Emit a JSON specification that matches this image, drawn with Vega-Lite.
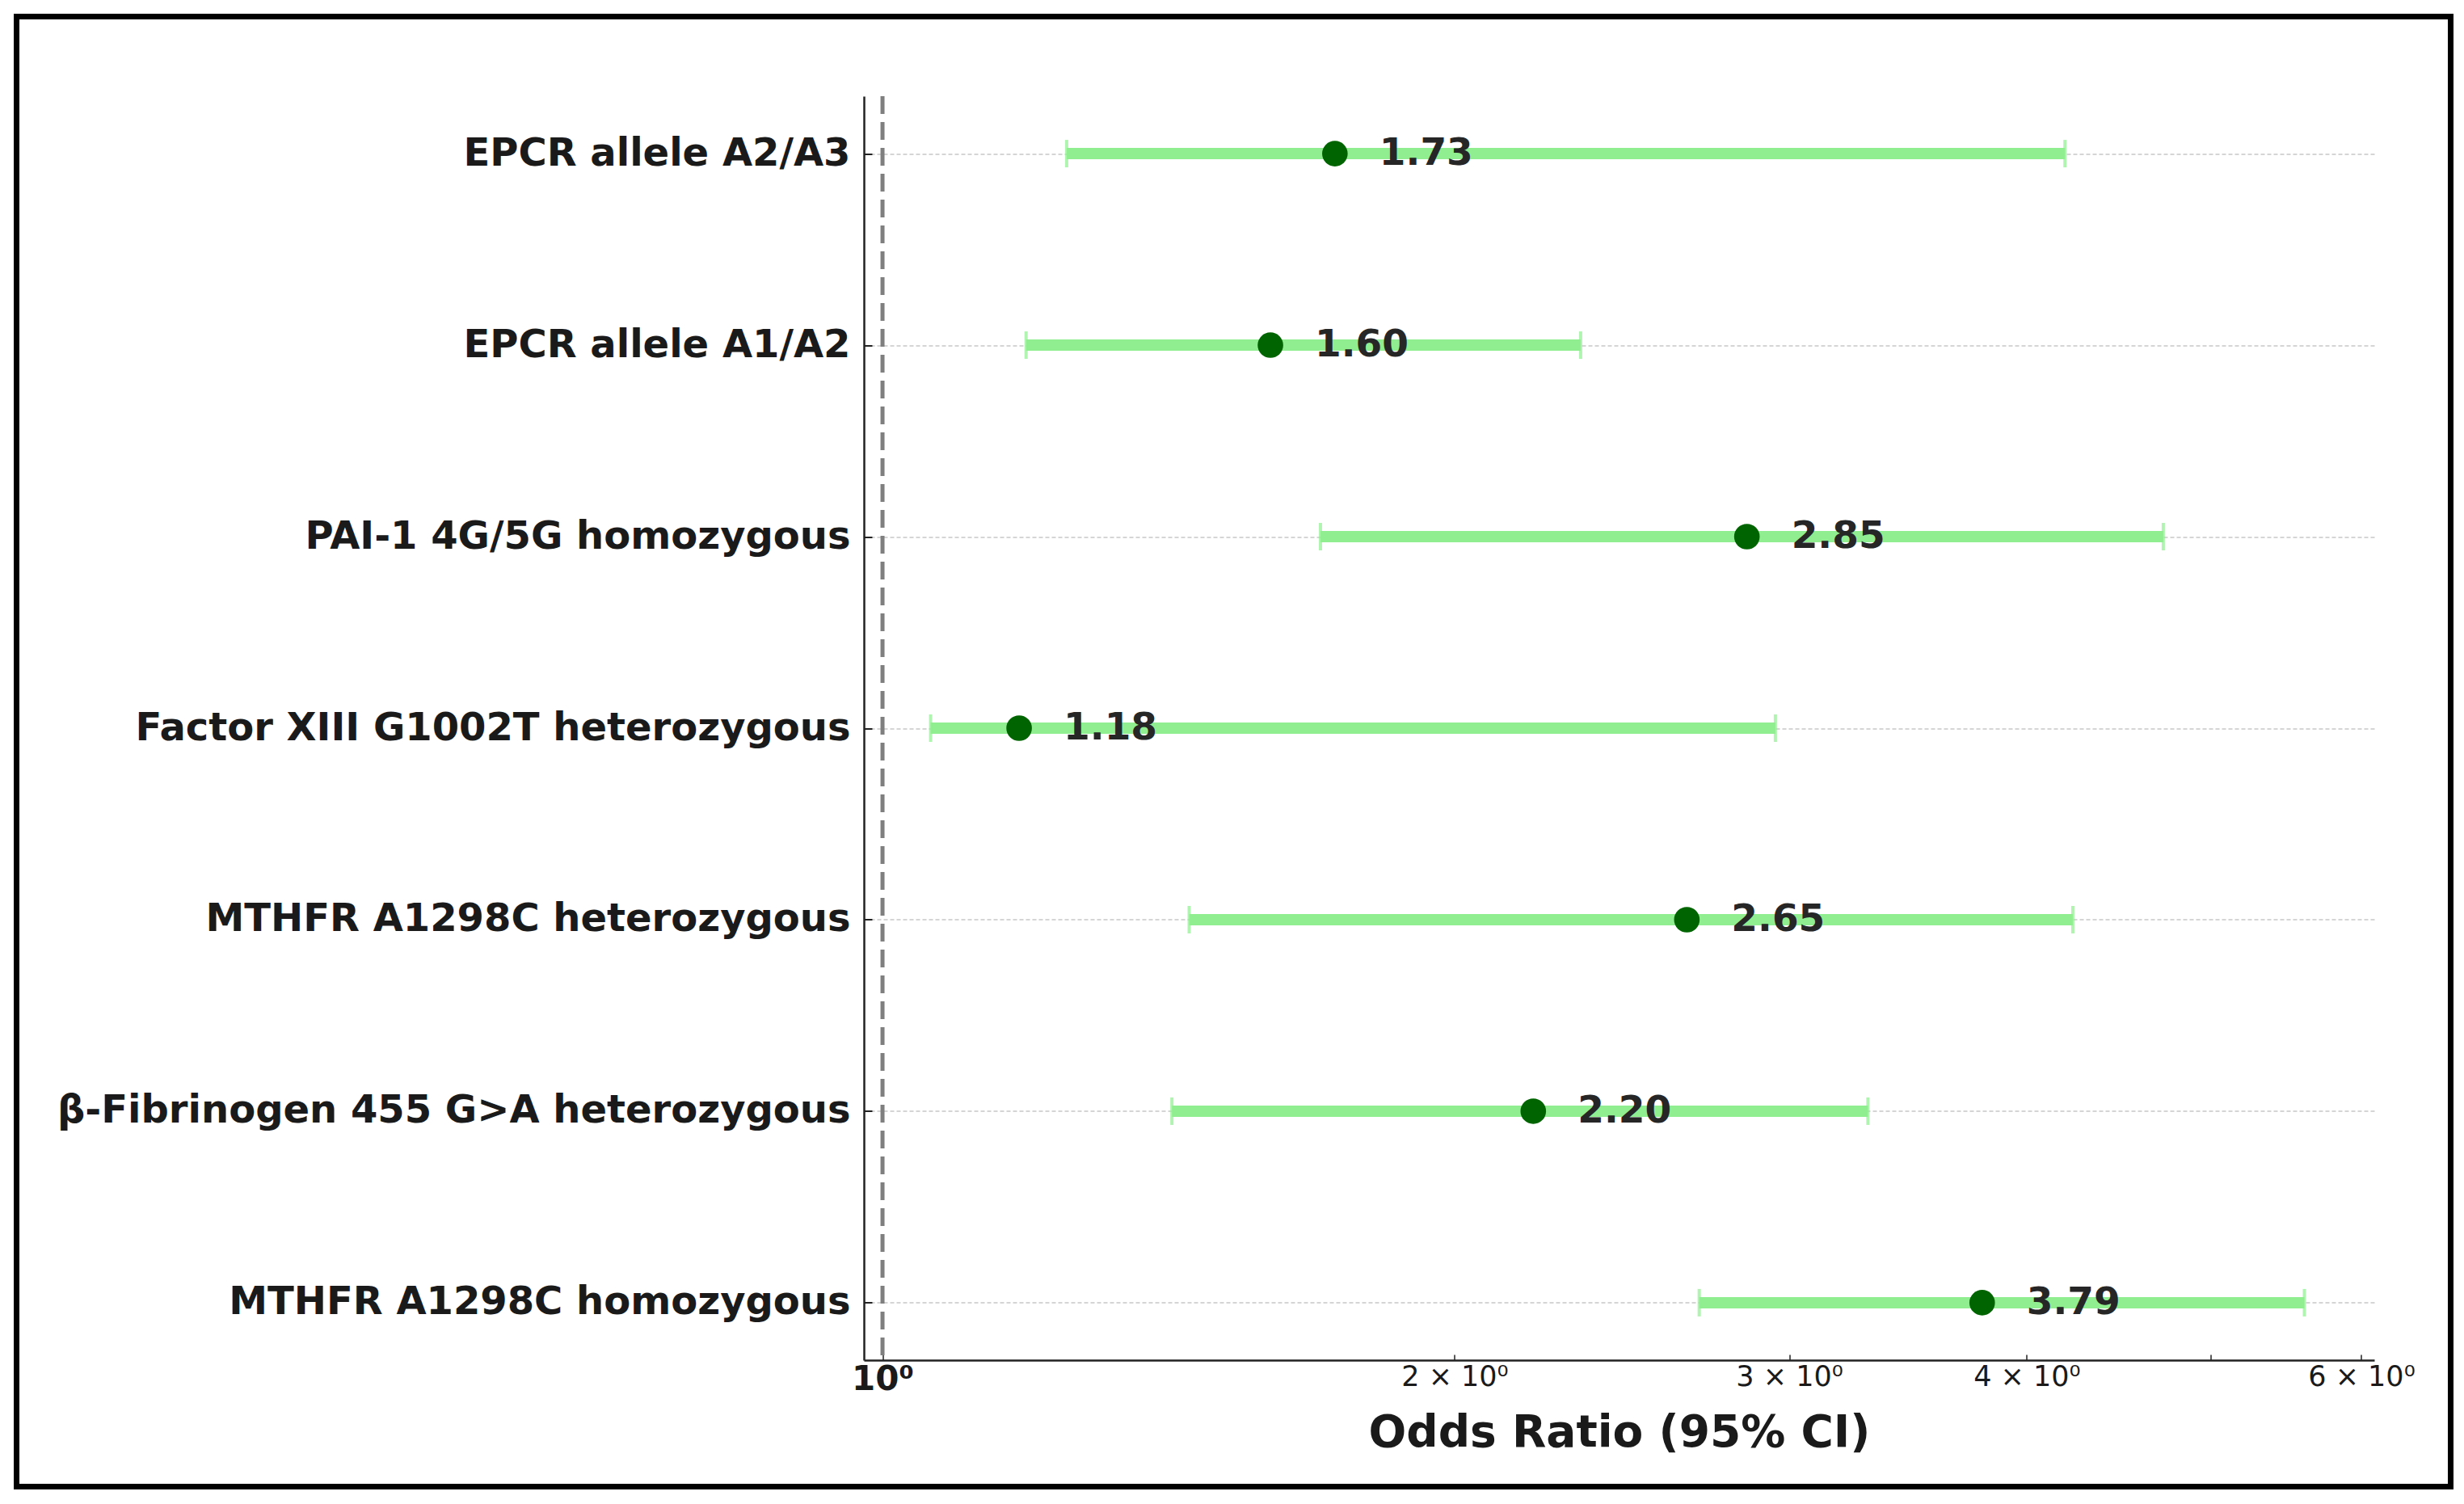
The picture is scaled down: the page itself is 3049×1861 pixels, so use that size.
{
  "$schema": "https://vega.github.io/schema/vega-lite/v6.json",
  "width": 3012,
  "height": 1819,
  "autosize": {"type": "none"},
  "padding": {"left": 20.5, "top": 20.5, "right": 16.5, "bottom": 21.5},
  "background": "white",
  "config": {
    "font": "DejaVu Sans",
    "view": {"stroke": "black", "strokeWidth": 7}
  },
  "data": {
    "values": [
      {"factor": "EPCR allele A2/A3", "or": 1.73, "lo": 1.25, "hi": 4.19},
      {"factor": "EPCR allele A1/A2", "or": 1.60, "lo": 1.19, "hi": 2.33},
      {"factor": "PAI-1 4G/5G homozygous", "or": 2.85, "lo": 1.70, "hi": 4.72},
      {"factor": "Factor XIII G1002T heterozygous", "or": 1.18, "lo": 1.06, "hi": 2.95},
      {"factor": "MTHFR A1298C heterozygous", "or": 2.65, "lo": 1.45, "hi": 4.23},
      {"factor": "β-Fibrinogen 455 G>A heterozygous", "or": 2.20, "lo": 1.42, "hi": 3.30},
      {"factor": "MTHFR A1298C homozygous", "or": 3.79, "lo": 2.69, "hi": 5.60}
    ]
  },
  "layer": [
    {
      "encoding": {
        "y": {
          "field": "factor",
          "type": "nominal",
          "sort": null,
          "scale": {"type": "point", "padding": 0.3, "range": [98.5, 1662.5]},
          "axis": {
            "title": null,
            "offset": -1048.5,
            "labelFont": "DejaVu Sans",
            "labelFontSize": 48,
            "labelFontWeight": "bold",
            "labelColor": "#1a1a1a",
            "labelLimit": 3000,
            "labelPadding": 27,
            "tickSize": -10,
            "tickWidth": 2,
            "tickColor": "#222222",
            "domainColor": "#222222",
            "domainWidth": 2.5,
            "grid": true,
            "gridColor": "#c8c8c8",
            "gridWidth": 1.5,
            "gridDash": [5, 3]
          }
        }
      },
      "layer": [
        {
          "mark": {"type": "rule", "color": "#90EE90", "strokeWidth": 14, "strokeCap": "butt"},
          "encoding": {
            "x": {
              "field": "lo",
              "type": "quantitative",
              "scale": {"type": "log", "domain": [0.9777, 6.095], "range": [1048.5, 2917.5], "nice": false, "zero": false},
              "axis": {
                "title": "Odds Ratio (95% CI)",
                "offset": -156.5,
                "values": [1, 2, 3, 4, 5, 6],
                "labelExpr": "datum.value == 1 ? '10⁰' : (datum.value == 5 ? '' : datum.value + ' × 10⁰')",
                "labelFont": "DejaVu Sans",
                "labelFontSize": {"condition": {"test": "datum.value == 1", "value": 42}, "value": 35},
                "labelFontWeight": {"condition": {"test": "datum.value == 1", "value": "bold"}, "value": "normal"},
                "labelColor": "#1a1a1a",
                "labelPadding": 10,
                "labelFlush": false,
                "labelOverlap": false,
                "tickSize": -7,
                "tickWidth": 1.5,
                "tickColor": "#222222",
                "domainColor": "#222222",
                "domainWidth": 2.5,
                "grid": false,
                "titleFont": "DejaVu Sans",
                "titleFontSize": 55,
                "titleFontWeight": "bold",
                "titleColor": "#1a1a1a",
                "titlePadding": 19
              }
            },
            "x2": {"field": "hi"}
          }
        },
        {
          "mark": {"type": "tick", "color": "#90EE90", "size": 34, "thickness": 4, "orient": "vertical"},
          "encoding": {"x": {"field": "lo", "type": "quantitative"}}
        },
        {
          "mark": {"type": "tick", "color": "#90EE90", "size": 34, "thickness": 4, "orient": "vertical"},
          "encoding": {"x": {"field": "hi", "type": "quantitative"}}
        },
        {
          "mark": {"type": "circle", "color": "#006400", "size": 1000, "opacity": 1},
          "encoding": {"x": {"field": "or", "type": "quantitative"}}
        },
        {
          "mark": {"type": "text", "align": "left", "baseline": "middle", "dx": 55, "font": "DejaVu Sans", "fontSize": 47, "fontWeight": "bold", "color": "#262626"},
          "encoding": {
            "x": {"field": "or", "type": "quantitative"},
            "text": {"field": "or", "type": "quantitative", "format": ".2f"}
          }
        }
      ]
    },
    {
      "data": {"values": [{"ref": 1}]},
      "mark": {"type": "rule", "color": "#7f7f7f", "strokeWidth": 5, "strokeDash": [22, 10]},
      "encoding": {
        "x": {"field": "ref", "type": "quantitative"},
        "y": {"datum": 0, "type": "quantitative", "scale": {"domain": [0, 1], "range": [98.5, 1662.5]}, "axis": null},
        "y2": {"datum": 1}
      }
    }
  ],
  "resolve": {"scale": {"y": "independent"}, "axis": {"y": "independent"}}
}
